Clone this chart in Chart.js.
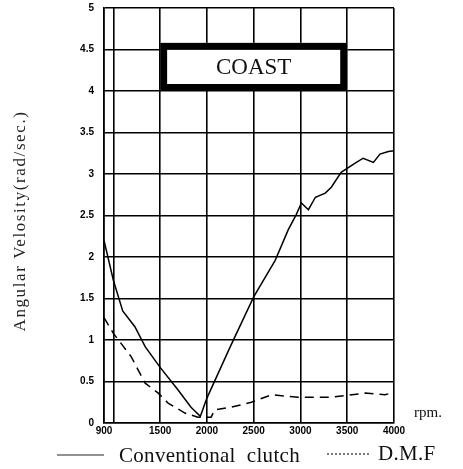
<!DOCTYPE html>
<html>
<head>
<meta charset="utf-8">
<script src="https://cdn.jsdelivr.net/npm/chart.js@4"></script>
<style>
  html, body { margin: 0; padding: 0; background: #fff; }
  #wrap { width: 463px; height: 469px; }
</style>
</head>
<body>
<div id="wrap"><canvas id="coastChart" width="463" height="469"></canvas></div>
<script>
// rpm / angular velocity
const conventionalRpm = [900, 1000, 1100, 1230, 1340, 1500, 1690, 1830, 1930, 2000, 2250, 2500, 2730, 2870, 2955, 3010, 3085, 3160, 3265, 3330, 3435, 3585, 3670, 3780, 3850, 3940, 4000];
const conventionalVel = [2.2, 1.72, 1.35, 1.16, 0.92, 0.67, 0.40, 0.19, 0.08, 0.3, 0.92, 1.52, 1.96, 2.33, 2.51, 2.65, 2.57, 2.72, 2.77, 2.84, 3.02, 3.13, 3.19, 3.14, 3.24, 3.27, 3.28];
const dmfRpm = [900, 1000, 1190, 1340, 1480, 1585, 1765, 1905, 2045, 2085, 2260, 2475, 2690, 2975, 3330, 3690, 3905, 4000];
const dmfVel = [1.27, 1.08, 0.80, 0.48, 0.36, 0.24, 0.12, 0.07, 0.07, 0.16, 0.19, 0.25, 0.34, 0.31, 0.31, 0.36, 0.34, 0.37];
const xTicks = [900, 1000, 1500, 2000, 2500, 3000, 3500, 4000];
const yTicks = [0, 0.5, 1, 1.5, 2, 2.5, 3, 3.5, 4, 4.5, 5];

function toPoints(xs, ys) {
  return xs.map((x, i) => ({ x: x, y: ys[i] }));
}

// box with "COAST", axis title, rpm unit and the legend under the plot
const extrasPlugin = {
  id: 'extras',
  afterDatasetsDraw(chart) {
    const ctx = chart.ctx;
    const x = chart.scales.x, y = chart.scales.y;
    const l = x.getPixelForValue(1500), r = x.getPixelForValue(3500);
    const t = y.getPixelForValue(4.58), b = y.getPixelForValue(4.0);
    ctx.save();
    ctx.fillStyle = '#fff';
    ctx.fillRect(l, t, r - l, b - t);
    ctx.strokeStyle = '#000';
    ctx.lineWidth = 7;
    ctx.strokeRect(l + 3.5, t + 3.5, r - l - 7, b - t - 7);
    ctx.fillStyle = '#111';
    ctx.font = '23px "Liberation Serif"';
    ctx.textAlign = 'center';
    ctx.textBaseline = 'middle';
    ctx.fillText('COAST', (l + r) / 2, (t + b) / 2 + 1);

    // y axis title, a bit letter-spaced like the scan
    ctx.save();
    ctx.translate(21, 221);
    ctx.rotate(-Math.PI / 2);
    ctx.font = '17px "Liberation Serif"';
    ctx.letterSpacing = '1.6px';
    ctx.fillStyle = '#222';
    ctx.fillText('Angular Velosity(rad/sec.)', 0, 0);
    ctx.restore();

    ctx.font = '15px "Liberation Serif"';
    ctx.textAlign = 'left';
    ctx.fillText('rpm.', 414, 413);

    // legend
    ctx.lineWidth = 1.2;
    ctx.strokeStyle = '#222';
    ctx.beginPath();
    ctx.moveTo(57, 455);
    ctx.lineTo(104, 455);
    ctx.stroke();
    ctx.setLineDash([2, 2]);
    ctx.beginPath();
    ctx.moveTo(327, 454);
    ctx.lineTo(370, 454);
    ctx.stroke();
    ctx.setLineDash([]);
    ctx.font = '21px "Liberation Serif"';
    ctx.letterSpacing = '0.3px';
    ctx.fillText('Conventional  clutch', 119, 456);
    ctx.fillText('D.M.F', 378, 454);
    ctx.restore();
  }
};

const chartCtx = document.getElementById('coastChart').getContext('2d');
new Chart(chartCtx, {
  type: 'line',
  data: {
    datasets: [{
      label: 'Conventional clutch',
      data: toPoints(conventionalRpm, conventionalVel),
      borderColor: '#000',
      borderWidth: 1.5,
      pointRadius: 0,
      fill: false
    }, {
      label: 'D.M.F',
      data: toPoints(dmfRpm, dmfVel),
      borderColor: '#000',
      borderWidth: 1.5,
      borderDash: [9, 6],
      pointRadius: 0,
      fill: false
    }]
  },
  options: {
    responsive: false,
    animation: false,
    layout: { padding: { top: 8, right: 69, left: 0, bottom: 0 } },
    scales: {
      x: {
        type: 'linear',
        min: 900,
        max: 4000,
        afterBuildTicks: (axis) => { axis.ticks = xTicks.map(v => ({ value: v })); },
        afterFit: (axis) => {
          axis.height = 46;
          axis.paddingLeft = 0;
          axis.paddingRight = 0;
        },
        ticks: {
          color: '#000',
          font: { family: '"Liberation Sans"', size: 10, weight: 'bold' },
          padding: 2,
          maxRotation: 0,
          callback: (v) => (v === 1000 ? '' : v)
        },
        grid: { color: '#000', lineWidth: 1.6, drawTicks: false },
        border: { color: '#000', width: 1.6 }
      },
      y: {
        min: 0,
        max: 5,
        afterBuildTicks: (axis) => { axis.ticks = yTicks.map(v => ({ value: v })); },
        afterFit: (axis) => {
          axis.width = 104;
          axis.paddingTop = 0;
          axis.paddingBottom = 0;
        },
        ticks: {
          color: '#000',
          font: { family: '"Liberation Sans"', size: 10, weight: 'bold' },
          padding: 10,
          callback: (v) => String(v)
        },
        grid: { color: '#000', lineWidth: 1.6, drawTicks: false },
        border: { color: '#000', width: 1.6 }
      }
    },
    plugins: {
      legend: { display: false },
      tooltip: { enabled: false }
    }
  },
  plugins: [extrasPlugin]
});
</script>
</body>
</html>
